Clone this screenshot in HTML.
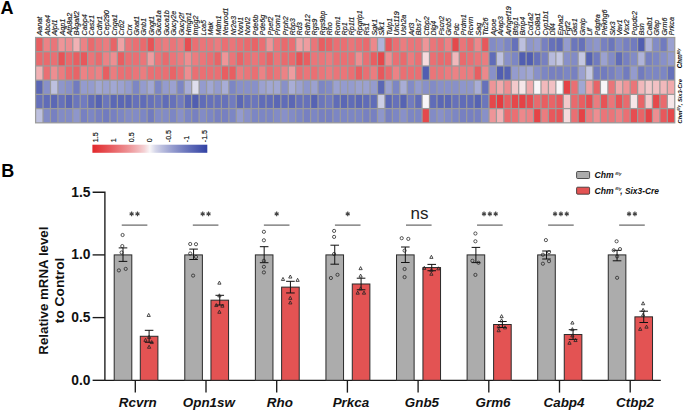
<!DOCTYPE html><html><head><meta charset="utf-8"><style>html,body{margin:0;padding:0;background:#fff;width:685px;height:411px;overflow:hidden}svg{display:block;font-family:"Liberation Sans",sans-serif}</style></head><body>
<svg width="685" height="411" viewBox="0 0 685 411">
<rect width="685" height="411" fill="#fff"/>
<text x="0.5" y="14.2" font-size="18" font-weight="bold" fill="#000">A</text>
<text x="1.2" y="176.9" font-size="18" font-weight="bold" fill="#000">B</text>
<g font-size="7.25" font-style="italic" fill="#111" stroke="#222" stroke-width="0.15">
<text transform="translate(42.32,35.6) rotate(-90)">Aanat</text>
<text transform="translate(49.75,35.6) rotate(-90)">Abca4</text>
<text transform="translate(57.18,35.6) rotate(-90)">Aipl1</text>
<text transform="translate(64.61,35.6) rotate(-90)">Aqp1</text>
<text transform="translate(72.04,35.6) rotate(-90)">Atp8a2</text>
<text transform="translate(79.48,35.6) rotate(-90)">B4galt2</text>
<text transform="translate(86.91,35.6) rotate(-90)">Cabp4</text>
<text transform="translate(94.34,35.6) rotate(-90)">Casz1</text>
<text transform="translate(101.77,35.6) rotate(-90)">Cdhr1</text>
<text transform="translate(109.20,35.6) rotate(-90)">Cep290</text>
<text transform="translate(116.64,35.6) rotate(-90)">Cnga1</text>
<text transform="translate(124.07,35.6) rotate(-90)">Crb2</text>
<text transform="translate(131.50,35.6) rotate(-90)">Crx</text>
<text transform="translate(138.93,35.6) rotate(-90)">Gnat1</text>
<text transform="translate(146.36,35.6) rotate(-90)">Gnb1</text>
<text transform="translate(153.80,35.6) rotate(-90)">Gngt1</text>
<text transform="translate(161.23,35.6) rotate(-90)">Guca1a</text>
<text transform="translate(168.66,35.6) rotate(-90)">Guca1b</text>
<text transform="translate(176.09,35.6) rotate(-90)">Gucy2e</text>
<text transform="translate(183.52,35.6) rotate(-90)">Gucy2f</text>
<text transform="translate(190.96,35.6) rotate(-90)">Hmgn1</text>
<text transform="translate(198.39,35.6) rotate(-90)">Impg2</text>
<text transform="translate(205.82,35.6) rotate(-90)">Lca5</text>
<text transform="translate(213.25,35.6) rotate(-90)">Mak</text>
<text transform="translate(220.68,35.6) rotate(-90)">Mdm1</text>
<text transform="translate(228.12,35.6) rotate(-90)">Neurod1</text>
<text transform="translate(235.55,35.6) rotate(-90)">Nr2e3</text>
<text transform="translate(242.98,35.6) rotate(-90)">Nxnl1</text>
<text transform="translate(250.41,35.6) rotate(-90)">Nxnl2</text>
<text transform="translate(257.84,35.6) rotate(-90)">Pde6b</text>
<text transform="translate(265.28,35.6) rotate(-90)">Pde6g</text>
<text transform="translate(272.71,35.6) rotate(-90)">Ppef2</text>
<text transform="translate(280.14,35.6) rotate(-90)">Prom1</text>
<text transform="translate(287.57,35.6) rotate(-90)">Prph2</text>
<text transform="translate(295.00,35.6) rotate(-90)">Rbp3</text>
<text transform="translate(302.44,35.6) rotate(-90)">Rd3</text>
<text transform="translate(309.87,35.6) rotate(-90)">Rdh12</text>
<text transform="translate(317.30,35.6) rotate(-90)">Rgs9</text>
<text transform="translate(324.73,35.6) rotate(-90)">Rgs9bp</text>
<text transform="translate(332.16,35.6) rotate(-90)">Rho</text>
<text transform="translate(339.60,35.6) rotate(-90)">Rom1</text>
<text transform="translate(347.03,35.6) rotate(-90)">Rp1</text>
<text transform="translate(354.46,35.6) rotate(-90)">Rp1l1</text>
<text transform="translate(361.89,35.6) rotate(-90)">Rpgrip1</text>
<text transform="translate(369.32,35.6) rotate(-90)">Rs1</text>
<text transform="translate(376.76,35.6) rotate(-90)">Sgk1</text>
<text transform="translate(384.19,35.6) rotate(-90)">Slk1</text>
<text transform="translate(391.62,35.6) rotate(-90)">Tulp1</text>
<text transform="translate(399.05,35.6) rotate(-90)">Unc119</text>
<text transform="translate(406.48,35.6) rotate(-90)">Ush2a</text>
<text transform="translate(413.92,35.6) rotate(-90)">Arl3</text>
<text transform="translate(421.35,35.6) rotate(-90)">Bbs7</text>
<text transform="translate(428.78,35.6) rotate(-90)">Ctbp2</text>
<text transform="translate(436.21,35.6) rotate(-90)">Dlg4</text>
<text transform="translate(443.64,35.6) rotate(-90)">Fscn2</text>
<text transform="translate(451.08,35.6) rotate(-90)">Gnb5</text>
<text transform="translate(458.51,35.6) rotate(-90)">Pdc</text>
<text transform="translate(465.94,35.6) rotate(-90)">Prdm1</text>
<text transform="translate(473.37,35.6) rotate(-90)">Rcvrn</text>
<text transform="translate(480.80,35.6) rotate(-90)">Sag</text>
<text transform="translate(488.24,35.6) rotate(-90)">Ttc26</text>
<text transform="translate(495.67,35.6) rotate(-90)">Apoe</text>
<text transform="translate(503.10,35.6) rotate(-90)">Arap3</text>
<text transform="translate(510.53,35.6) rotate(-90)">Arhgef19</text>
<text transform="translate(517.96,35.6) rotate(-90)">Bfsp1</text>
<text transform="translate(525.40,35.6) rotate(-90)">Bmp4</text>
<text transform="translate(532.83,35.6) rotate(-90)">Col1a2</text>
<text transform="translate(540.26,35.6) rotate(-90)">Col8a1</text>
<text transform="translate(547.69,35.6) rotate(-90)">Cyp1b1</text>
<text transform="translate(555.12,35.6) rotate(-90)">Dll4</text>
<text transform="translate(562.56,35.6) rotate(-90)">Epha2</text>
<text transform="translate(569.99,35.6) rotate(-90)">Fgf2</text>
<text transform="translate(577.42,35.6) rotate(-90)">Gas1</text>
<text transform="translate(584.85,35.6) rotate(-90)">Gmip</text>
<text transform="translate(592.28,35.6) rotate(-90)">Lif</text>
<text transform="translate(599.72,35.6) rotate(-90)">Pdgfra</text>
<text transform="translate(607.15,35.6) rotate(-90)">Plekhg6</text>
<text transform="translate(614.58,35.6) rotate(-90)">Six3</text>
<text transform="translate(622.01,35.6) rotate(-90)">Vav1</text>
<text transform="translate(629.44,35.6) rotate(-90)">Vsx2</text>
<text transform="translate(636.88,35.6) rotate(-90)">Popdc2</text>
<text transform="translate(644.31,35.6) rotate(-90)">Bsn</text>
<text transform="translate(651.74,35.6) rotate(-90)">Calb1</text>
<text transform="translate(659.17,35.6) rotate(-90)">Gfap</text>
<text transform="translate(666.60,35.6) rotate(-90)">Grm6</text>
<text transform="translate(674.04,35.6) rotate(-90)">Prkca</text>
</g>
<rect x="34.98" y="36.88" width="640.40" height="86.57" fill="#9b9b9b"/>
<rect x="36.23" y="38.12" width="6.18" height="12.97" fill="#e85e61"/>
<rect x="43.66" y="38.12" width="6.18" height="12.97" fill="#ec8285"/>
<rect x="51.09" y="38.12" width="6.18" height="12.97" fill="#ea7579"/>
<rect x="58.52" y="38.12" width="6.18" height="12.97" fill="#ee9598"/>
<rect x="65.95" y="38.12" width="6.18" height="12.97" fill="#ed8e91"/>
<rect x="73.39" y="38.12" width="6.18" height="12.97" fill="#f1b1b4"/>
<rect x="80.82" y="38.12" width="6.18" height="12.97" fill="#ec8285"/>
<rect x="88.25" y="38.12" width="6.18" height="12.97" fill="#e96a6d"/>
<rect x="95.68" y="38.12" width="6.18" height="12.97" fill="#ea7579"/>
<rect x="103.11" y="38.12" width="6.18" height="12.97" fill="#eb7c7f"/>
<rect x="110.55" y="38.12" width="6.18" height="12.97" fill="#e86467"/>
<rect x="117.98" y="38.12" width="6.18" height="12.97" fill="#efa2a5"/>
<rect x="125.41" y="38.12" width="6.18" height="12.97" fill="#ea7579"/>
<rect x="132.84" y="38.12" width="6.18" height="12.97" fill="#ea6f73"/>
<rect x="140.27" y="38.12" width="6.18" height="12.97" fill="#e96a6d"/>
<rect x="147.71" y="38.12" width="6.18" height="12.97" fill="#e75356"/>
<rect x="155.14" y="38.12" width="6.18" height="12.97" fill="#ea7579"/>
<rect x="162.57" y="38.12" width="6.18" height="12.97" fill="#eb7c7f"/>
<rect x="170.00" y="38.12" width="6.18" height="12.97" fill="#ea7579"/>
<rect x="177.43" y="38.12" width="6.18" height="12.97" fill="#eb7c7f"/>
<rect x="184.87" y="38.12" width="6.18" height="12.97" fill="#e64d51"/>
<rect x="192.30" y="38.12" width="6.18" height="12.97" fill="#ea6f73"/>
<rect x="199.73" y="38.12" width="6.18" height="12.97" fill="#ea7579"/>
<rect x="207.16" y="38.12" width="6.18" height="12.97" fill="#ea7579"/>
<rect x="214.59" y="38.12" width="6.18" height="12.97" fill="#eb7c7f"/>
<rect x="222.03" y="38.12" width="6.18" height="12.97" fill="#ea6f73"/>
<rect x="229.46" y="38.12" width="6.18" height="12.97" fill="#ea7579"/>
<rect x="236.89" y="38.12" width="6.18" height="12.97" fill="#ea6f73"/>
<rect x="244.32" y="38.12" width="6.18" height="12.97" fill="#e96a6d"/>
<rect x="251.75" y="38.12" width="6.18" height="12.97" fill="#e86467"/>
<rect x="259.19" y="38.12" width="6.18" height="12.97" fill="#ea6f73"/>
<rect x="266.62" y="38.12" width="6.18" height="12.97" fill="#ee9598"/>
<rect x="274.05" y="38.12" width="6.18" height="12.97" fill="#ea7579"/>
<rect x="281.48" y="38.12" width="6.18" height="12.97" fill="#e96a6d"/>
<rect x="288.91" y="38.12" width="6.18" height="12.97" fill="#ea6f73"/>
<rect x="296.35" y="38.12" width="6.18" height="12.97" fill="#efa2a5"/>
<rect x="303.78" y="38.12" width="6.18" height="12.97" fill="#ee9c9f"/>
<rect x="311.21" y="38.12" width="6.18" height="12.97" fill="#ea7579"/>
<rect x="318.64" y="38.12" width="6.18" height="12.97" fill="#e85e61"/>
<rect x="326.07" y="38.12" width="6.18" height="12.97" fill="#e86467"/>
<rect x="333.51" y="38.12" width="6.18" height="12.97" fill="#ea6f73"/>
<rect x="340.94" y="38.12" width="6.18" height="12.97" fill="#ea6f73"/>
<rect x="348.37" y="38.12" width="6.18" height="12.97" fill="#ea7579"/>
<rect x="355.80" y="38.12" width="6.18" height="12.97" fill="#ea6f73"/>
<rect x="363.23" y="38.12" width="6.18" height="12.97" fill="#e96a6d"/>
<rect x="370.67" y="38.12" width="6.18" height="12.97" fill="#ec888b"/>
<rect x="378.10" y="38.12" width="6.18" height="12.97" fill="#afb3d9"/>
<rect x="385.53" y="38.12" width="6.18" height="12.97" fill="#e7585c"/>
<rect x="392.96" y="38.12" width="6.18" height="12.97" fill="#ea6f73"/>
<rect x="400.39" y="38.12" width="6.18" height="12.97" fill="#eb7c7f"/>
<rect x="407.83" y="38.12" width="6.18" height="12.97" fill="#ea7579"/>
<rect x="415.26" y="38.12" width="6.18" height="12.97" fill="#ea7579"/>
<rect x="422.69" y="38.12" width="6.18" height="12.97" fill="#ee9598"/>
<rect x="430.12" y="38.12" width="6.18" height="12.97" fill="#ea7579"/>
<rect x="437.55" y="38.12" width="6.18" height="12.97" fill="#ea6f73"/>
<rect x="444.99" y="38.12" width="6.18" height="12.97" fill="#ec8285"/>
<rect x="452.42" y="38.12" width="6.18" height="12.97" fill="#e5484b"/>
<rect x="459.85" y="38.12" width="6.18" height="12.97" fill="#ea7579"/>
<rect x="467.28" y="38.12" width="6.18" height="12.97" fill="#e96a6d"/>
<rect x="474.71" y="38.12" width="6.18" height="12.97" fill="#ec888b"/>
<rect x="482.15" y="38.12" width="6.18" height="12.97" fill="#e7585c"/>
<rect x="489.58" y="38.12" width="6.18" height="12.97" fill="#828bc6"/>
<rect x="497.01" y="38.12" width="6.18" height="12.97" fill="#8890c9"/>
<rect x="504.44" y="38.12" width="6.18" height="12.97" fill="#7c86c4"/>
<rect x="511.87" y="38.12" width="6.18" height="12.97" fill="#6671ba"/>
<rect x="519.31" y="38.12" width="6.18" height="12.97" fill="#bdc0df"/>
<rect x="526.74" y="38.12" width="6.18" height="12.97" fill="#8e96cb"/>
<rect x="534.17" y="38.12" width="6.18" height="12.97" fill="#949bce"/>
<rect x="541.60" y="38.12" width="6.18" height="12.97" fill="#7780c1"/>
<rect x="549.03" y="38.12" width="6.18" height="12.97" fill="#6671ba"/>
<rect x="556.47" y="38.12" width="6.18" height="12.97" fill="#606cb8"/>
<rect x="563.90" y="38.12" width="6.18" height="12.97" fill="#949bce"/>
<rect x="571.33" y="38.12" width="6.18" height="12.97" fill="#6b76bc"/>
<rect x="578.76" y="38.12" width="6.18" height="12.97" fill="#6671ba"/>
<rect x="586.19" y="38.12" width="6.18" height="12.97" fill="#8890c9"/>
<rect x="593.62" y="38.12" width="6.18" height="12.97" fill="#8e96cb"/>
<rect x="601.06" y="38.12" width="6.18" height="12.97" fill="#7780c1"/>
<rect x="608.49" y="38.12" width="6.18" height="12.97" fill="#6b76bc"/>
<rect x="615.92" y="38.12" width="6.18" height="12.97" fill="#828bc6"/>
<rect x="623.35" y="38.12" width="6.18" height="12.97" fill="#7780c1"/>
<rect x="630.79" y="38.12" width="6.18" height="12.97" fill="#717bbf"/>
<rect x="638.22" y="38.12" width="6.18" height="12.97" fill="#515eb1"/>
<rect x="645.65" y="38.12" width="6.18" height="12.97" fill="#afb3d9"/>
<rect x="653.08" y="38.12" width="6.18" height="12.97" fill="#828bc6"/>
<rect x="660.51" y="38.12" width="6.18" height="12.97" fill="#717bbf"/>
<rect x="667.95" y="38.12" width="6.18" height="12.97" fill="#9ba1d0"/>
<rect x="36.23" y="52.34" width="6.18" height="12.97" fill="#e96a6d"/>
<rect x="43.66" y="52.34" width="6.18" height="12.97" fill="#e96a6d"/>
<rect x="51.09" y="52.34" width="6.18" height="12.97" fill="#ea6f73"/>
<rect x="58.52" y="52.34" width="6.18" height="12.97" fill="#e75356"/>
<rect x="65.95" y="52.34" width="6.18" height="12.97" fill="#e96a6d"/>
<rect x="73.39" y="52.34" width="6.18" height="12.97" fill="#e85e61"/>
<rect x="80.82" y="52.34" width="6.18" height="12.97" fill="#e7585c"/>
<rect x="88.25" y="52.34" width="6.18" height="12.97" fill="#ea7579"/>
<rect x="95.68" y="52.34" width="6.18" height="12.97" fill="#e96a6d"/>
<rect x="103.11" y="52.34" width="6.18" height="12.97" fill="#ec8285"/>
<rect x="110.55" y="52.34" width="6.18" height="12.97" fill="#ed8e91"/>
<rect x="117.98" y="52.34" width="6.18" height="12.97" fill="#e85e61"/>
<rect x="125.41" y="52.34" width="6.18" height="12.97" fill="#ea6f73"/>
<rect x="132.84" y="52.34" width="6.18" height="12.97" fill="#ea6f73"/>
<rect x="140.27" y="52.34" width="6.18" height="12.97" fill="#ea7579"/>
<rect x="147.71" y="52.34" width="6.18" height="12.97" fill="#ee9c9f"/>
<rect x="155.14" y="52.34" width="6.18" height="12.97" fill="#ea7579"/>
<rect x="162.57" y="52.34" width="6.18" height="12.97" fill="#e96a6d"/>
<rect x="170.00" y="52.34" width="6.18" height="12.97" fill="#ea7579"/>
<rect x="177.43" y="52.34" width="6.18" height="12.97" fill="#eb7c7f"/>
<rect x="184.87" y="52.34" width="6.18" height="12.97" fill="#ed8e91"/>
<rect x="192.30" y="52.34" width="6.18" height="12.97" fill="#eb7c7f"/>
<rect x="199.73" y="52.34" width="6.18" height="12.97" fill="#ea7579"/>
<rect x="207.16" y="52.34" width="6.18" height="12.97" fill="#ea6f73"/>
<rect x="214.59" y="52.34" width="6.18" height="12.97" fill="#e86467"/>
<rect x="222.03" y="52.34" width="6.18" height="12.97" fill="#ee9598"/>
<rect x="229.46" y="52.34" width="6.18" height="12.97" fill="#ea7579"/>
<rect x="236.89" y="52.34" width="6.18" height="12.97" fill="#e86467"/>
<rect x="244.32" y="52.34" width="6.18" height="12.97" fill="#ea6f73"/>
<rect x="251.75" y="52.34" width="6.18" height="12.97" fill="#ea7579"/>
<rect x="259.19" y="52.34" width="6.18" height="12.97" fill="#ea6f73"/>
<rect x="266.62" y="52.34" width="6.18" height="12.97" fill="#e86467"/>
<rect x="274.05" y="52.34" width="6.18" height="12.97" fill="#ea7579"/>
<rect x="281.48" y="52.34" width="6.18" height="12.97" fill="#e96a6d"/>
<rect x="288.91" y="52.34" width="6.18" height="12.97" fill="#e96a6d"/>
<rect x="296.35" y="52.34" width="6.18" height="12.97" fill="#e75356"/>
<rect x="303.78" y="52.34" width="6.18" height="12.97" fill="#e85e61"/>
<rect x="311.21" y="52.34" width="6.18" height="12.97" fill="#ea7579"/>
<rect x="318.64" y="52.34" width="6.18" height="12.97" fill="#ea7579"/>
<rect x="326.07" y="52.34" width="6.18" height="12.97" fill="#eb7c7f"/>
<rect x="333.51" y="52.34" width="6.18" height="12.97" fill="#ea6f73"/>
<rect x="340.94" y="52.34" width="6.18" height="12.97" fill="#ea6f73"/>
<rect x="348.37" y="52.34" width="6.18" height="12.97" fill="#ea6f73"/>
<rect x="355.80" y="52.34" width="6.18" height="12.97" fill="#ed8e91"/>
<rect x="363.23" y="52.34" width="6.18" height="12.97" fill="#ea6f73"/>
<rect x="370.67" y="52.34" width="6.18" height="12.97" fill="#e85e61"/>
<rect x="378.10" y="52.34" width="6.18" height="12.97" fill="#e5484b"/>
<rect x="385.53" y="52.34" width="6.18" height="12.97" fill="#ed8e91"/>
<rect x="392.96" y="52.34" width="6.18" height="12.97" fill="#ea6f73"/>
<rect x="400.39" y="52.34" width="6.18" height="12.97" fill="#e96a6d"/>
<rect x="407.83" y="52.34" width="6.18" height="12.97" fill="#eb7c7f"/>
<rect x="415.26" y="52.34" width="6.18" height="12.97" fill="#ea6f73"/>
<rect x="422.69" y="52.34" width="6.18" height="12.97" fill="#f5dbdd"/>
<rect x="430.12" y="52.34" width="6.18" height="12.97" fill="#ea6f73"/>
<rect x="437.55" y="52.34" width="6.18" height="12.97" fill="#e96a6d"/>
<rect x="444.99" y="52.34" width="6.18" height="12.97" fill="#e96a6d"/>
<rect x="452.42" y="52.34" width="6.18" height="12.97" fill="#f1b8bb"/>
<rect x="459.85" y="52.34" width="6.18" height="12.97" fill="#e96a6d"/>
<rect x="467.28" y="52.34" width="6.18" height="12.97" fill="#ea6f73"/>
<rect x="474.71" y="52.34" width="6.18" height="12.97" fill="#ea7579"/>
<rect x="482.15" y="52.34" width="6.18" height="12.97" fill="#eb7c7f"/>
<rect x="489.58" y="52.34" width="6.18" height="12.97" fill="#606cb8"/>
<rect x="497.01" y="52.34" width="6.18" height="12.97" fill="#bdc0df"/>
<rect x="504.44" y="52.34" width="6.18" height="12.97" fill="#8890c9"/>
<rect x="511.87" y="52.34" width="6.18" height="12.97" fill="#7c86c4"/>
<rect x="519.31" y="52.34" width="6.18" height="12.97" fill="#515eb1"/>
<rect x="526.74" y="52.34" width="6.18" height="12.97" fill="#515eb1"/>
<rect x="534.17" y="52.34" width="6.18" height="12.97" fill="#6671ba"/>
<rect x="541.60" y="52.34" width="6.18" height="12.97" fill="#7780c1"/>
<rect x="549.03" y="52.34" width="6.18" height="12.97" fill="#b6badc"/>
<rect x="556.47" y="52.34" width="6.18" height="12.97" fill="#c4c7e2"/>
<rect x="563.90" y="52.34" width="6.18" height="12.97" fill="#8890c9"/>
<rect x="571.33" y="52.34" width="6.18" height="12.97" fill="#828bc6"/>
<rect x="578.76" y="52.34" width="6.18" height="12.97" fill="#c4c7e2"/>
<rect x="586.19" y="52.34" width="6.18" height="12.97" fill="#5663b3"/>
<rect x="593.62" y="52.34" width="6.18" height="12.97" fill="#717bbf"/>
<rect x="601.06" y="52.34" width="6.18" height="12.97" fill="#9ba1d0"/>
<rect x="608.49" y="52.34" width="6.18" height="12.97" fill="#828bc6"/>
<rect x="615.92" y="52.34" width="6.18" height="12.97" fill="#606cb8"/>
<rect x="623.35" y="52.34" width="6.18" height="12.97" fill="#7780c1"/>
<rect x="630.79" y="52.34" width="6.18" height="12.97" fill="#828bc6"/>
<rect x="638.22" y="52.34" width="6.18" height="12.97" fill="#afb3d9"/>
<rect x="645.65" y="52.34" width="6.18" height="12.97" fill="#7780c1"/>
<rect x="653.08" y="52.34" width="6.18" height="12.97" fill="#7c86c4"/>
<rect x="660.51" y="52.34" width="6.18" height="12.97" fill="#8890c9"/>
<rect x="667.95" y="52.34" width="6.18" height="12.97" fill="#949bce"/>
<rect x="36.23" y="66.56" width="6.18" height="12.97" fill="#f1b1b4"/>
<rect x="43.66" y="66.56" width="6.18" height="12.97" fill="#ea6f73"/>
<rect x="51.09" y="66.56" width="6.18" height="12.97" fill="#ed8e91"/>
<rect x="58.52" y="66.56" width="6.18" height="12.97" fill="#eb7c7f"/>
<rect x="65.95" y="66.56" width="6.18" height="12.97" fill="#e96a6d"/>
<rect x="73.39" y="66.56" width="6.18" height="12.97" fill="#e86467"/>
<rect x="80.82" y="66.56" width="6.18" height="12.97" fill="#ec8285"/>
<rect x="88.25" y="66.56" width="6.18" height="12.97" fill="#eb7c7f"/>
<rect x="95.68" y="66.56" width="6.18" height="12.97" fill="#ec8285"/>
<rect x="103.11" y="66.56" width="6.18" height="12.97" fill="#e85e61"/>
<rect x="110.55" y="66.56" width="6.18" height="12.97" fill="#eb7c7f"/>
<rect x="117.98" y="66.56" width="6.18" height="12.97" fill="#ea6f73"/>
<rect x="125.41" y="66.56" width="6.18" height="12.97" fill="#ea6f73"/>
<rect x="132.84" y="66.56" width="6.18" height="12.97" fill="#ea7579"/>
<rect x="140.27" y="66.56" width="6.18" height="12.97" fill="#eb7c7f"/>
<rect x="147.71" y="66.56" width="6.18" height="12.97" fill="#ea6f73"/>
<rect x="155.14" y="66.56" width="6.18" height="12.97" fill="#ea6f73"/>
<rect x="162.57" y="66.56" width="6.18" height="12.97" fill="#ea6f73"/>
<rect x="170.00" y="66.56" width="6.18" height="12.97" fill="#e86467"/>
<rect x="177.43" y="66.56" width="6.18" height="12.97" fill="#ea6f73"/>
<rect x="184.87" y="66.56" width="6.18" height="12.97" fill="#ed8e91"/>
<rect x="192.30" y="66.56" width="6.18" height="12.97" fill="#ea6f73"/>
<rect x="199.73" y="66.56" width="6.18" height="12.97" fill="#ea6f73"/>
<rect x="207.16" y="66.56" width="6.18" height="12.97" fill="#ea6f73"/>
<rect x="214.59" y="66.56" width="6.18" height="12.97" fill="#ea6f73"/>
<rect x="222.03" y="66.56" width="6.18" height="12.97" fill="#e85e61"/>
<rect x="229.46" y="66.56" width="6.18" height="12.97" fill="#e85e61"/>
<rect x="236.89" y="66.56" width="6.18" height="12.97" fill="#eb7c7f"/>
<rect x="244.32" y="66.56" width="6.18" height="12.97" fill="#ea7579"/>
<rect x="251.75" y="66.56" width="6.18" height="12.97" fill="#ea6f73"/>
<rect x="259.19" y="66.56" width="6.18" height="12.97" fill="#ec8285"/>
<rect x="266.62" y="66.56" width="6.18" height="12.97" fill="#ea6f73"/>
<rect x="274.05" y="66.56" width="6.18" height="12.97" fill="#ea7579"/>
<rect x="281.48" y="66.56" width="6.18" height="12.97" fill="#ec8285"/>
<rect x="288.91" y="66.56" width="6.18" height="12.97" fill="#ee9c9f"/>
<rect x="296.35" y="66.56" width="6.18" height="12.97" fill="#ea6f73"/>
<rect x="303.78" y="66.56" width="6.18" height="12.97" fill="#ea7579"/>
<rect x="311.21" y="66.56" width="6.18" height="12.97" fill="#ea6f73"/>
<rect x="318.64" y="66.56" width="6.18" height="12.97" fill="#ea7579"/>
<rect x="326.07" y="66.56" width="6.18" height="12.97" fill="#eb7c7f"/>
<rect x="333.51" y="66.56" width="6.18" height="12.97" fill="#ea7579"/>
<rect x="340.94" y="66.56" width="6.18" height="12.97" fill="#ea7579"/>
<rect x="348.37" y="66.56" width="6.18" height="12.97" fill="#ea6f73"/>
<rect x="355.80" y="66.56" width="6.18" height="12.97" fill="#e85e61"/>
<rect x="363.23" y="66.56" width="6.18" height="12.97" fill="#ea6f73"/>
<rect x="370.67" y="66.56" width="6.18" height="12.97" fill="#eb7c7f"/>
<rect x="378.10" y="66.56" width="6.18" height="12.97" fill="#e7585c"/>
<rect x="385.53" y="66.56" width="6.18" height="12.97" fill="#e96a6d"/>
<rect x="392.96" y="66.56" width="6.18" height="12.97" fill="#ec8285"/>
<rect x="400.39" y="66.56" width="6.18" height="12.97" fill="#ea6f73"/>
<rect x="407.83" y="66.56" width="6.18" height="12.97" fill="#ea6f73"/>
<rect x="415.26" y="66.56" width="6.18" height="12.97" fill="#ea6f73"/>
<rect x="422.69" y="66.56" width="6.18" height="12.97" fill="#515eb1"/>
<rect x="430.12" y="66.56" width="6.18" height="12.97" fill="#ea7579"/>
<rect x="437.55" y="66.56" width="6.18" height="12.97" fill="#ea7579"/>
<rect x="444.99" y="66.56" width="6.18" height="12.97" fill="#eb7c7f"/>
<rect x="452.42" y="66.56" width="6.18" height="12.97" fill="#ec8285"/>
<rect x="459.85" y="66.56" width="6.18" height="12.97" fill="#eb7c7f"/>
<rect x="467.28" y="66.56" width="6.18" height="12.97" fill="#eb7c7f"/>
<rect x="474.71" y="66.56" width="6.18" height="12.97" fill="#e85e61"/>
<rect x="482.15" y="66.56" width="6.18" height="12.97" fill="#ec888b"/>
<rect x="489.58" y="66.56" width="6.18" height="12.97" fill="#8890c9"/>
<rect x="497.01" y="66.56" width="6.18" height="12.97" fill="#515eb1"/>
<rect x="504.44" y="66.56" width="6.18" height="12.97" fill="#5663b3"/>
<rect x="511.87" y="66.56" width="6.18" height="12.97" fill="#949bce"/>
<rect x="519.31" y="66.56" width="6.18" height="12.97" fill="#9ba1d0"/>
<rect x="526.74" y="66.56" width="6.18" height="12.97" fill="#a1a7d3"/>
<rect x="534.17" y="66.56" width="6.18" height="12.97" fill="#8890c9"/>
<rect x="541.60" y="66.56" width="6.18" height="12.97" fill="#7c86c4"/>
<rect x="549.03" y="66.56" width="6.18" height="12.97" fill="#7780c1"/>
<rect x="556.47" y="66.56" width="6.18" height="12.97" fill="#7780c1"/>
<rect x="563.90" y="66.56" width="6.18" height="12.97" fill="#7c86c4"/>
<rect x="571.33" y="66.56" width="6.18" height="12.97" fill="#7780c1"/>
<rect x="578.76" y="66.56" width="6.18" height="12.97" fill="#9ba1d0"/>
<rect x="586.19" y="66.56" width="6.18" height="12.97" fill="#c4c7e2"/>
<rect x="593.62" y="66.56" width="6.18" height="12.97" fill="#717bbf"/>
<rect x="601.06" y="66.56" width="6.18" height="12.97" fill="#717bbf"/>
<rect x="608.49" y="66.56" width="6.18" height="12.97" fill="#7780c1"/>
<rect x="615.92" y="66.56" width="6.18" height="12.97" fill="#828bc6"/>
<rect x="623.35" y="66.56" width="6.18" height="12.97" fill="#717bbf"/>
<rect x="630.79" y="66.56" width="6.18" height="12.97" fill="#949bce"/>
<rect x="638.22" y="66.56" width="6.18" height="12.97" fill="#717bbf"/>
<rect x="645.65" y="66.56" width="6.18" height="12.97" fill="#7c86c4"/>
<rect x="653.08" y="66.56" width="6.18" height="12.97" fill="#7c86c4"/>
<rect x="660.51" y="66.56" width="6.18" height="12.97" fill="#7c86c4"/>
<rect x="667.95" y="66.56" width="6.18" height="12.97" fill="#6671ba"/>
<rect x="36.23" y="80.78" width="6.18" height="12.97" fill="#5b67b5"/>
<rect x="43.66" y="80.78" width="6.18" height="12.97" fill="#8890c9"/>
<rect x="51.09" y="80.78" width="6.18" height="12.97" fill="#bdc0df"/>
<rect x="58.52" y="80.78" width="6.18" height="12.97" fill="#8e96cb"/>
<rect x="65.95" y="80.78" width="6.18" height="12.97" fill="#8890c9"/>
<rect x="73.39" y="80.78" width="6.18" height="12.97" fill="#717bbf"/>
<rect x="80.82" y="80.78" width="6.18" height="12.97" fill="#949bce"/>
<rect x="88.25" y="80.78" width="6.18" height="12.97" fill="#949bce"/>
<rect x="95.68" y="80.78" width="6.18" height="12.97" fill="#a1a7d3"/>
<rect x="103.11" y="80.78" width="6.18" height="12.97" fill="#9ba1d0"/>
<rect x="110.55" y="80.78" width="6.18" height="12.97" fill="#a1a7d3"/>
<rect x="117.98" y="80.78" width="6.18" height="12.97" fill="#9ba1d0"/>
<rect x="125.41" y="80.78" width="6.18" height="12.97" fill="#949bce"/>
<rect x="132.84" y="80.78" width="6.18" height="12.97" fill="#7c86c4"/>
<rect x="140.27" y="80.78" width="6.18" height="12.97" fill="#949bce"/>
<rect x="147.71" y="80.78" width="6.18" height="12.97" fill="#a1a7d3"/>
<rect x="155.14" y="80.78" width="6.18" height="12.97" fill="#7c86c4"/>
<rect x="162.57" y="80.78" width="6.18" height="12.97" fill="#949bce"/>
<rect x="170.00" y="80.78" width="6.18" height="12.97" fill="#9ba1d0"/>
<rect x="177.43" y="80.78" width="6.18" height="12.97" fill="#7c86c4"/>
<rect x="184.87" y="80.78" width="6.18" height="12.97" fill="#a8add6"/>
<rect x="192.30" y="80.78" width="6.18" height="12.97" fill="#dedeed"/>
<rect x="199.73" y="80.78" width="6.18" height="12.97" fill="#949bce"/>
<rect x="207.16" y="80.78" width="6.18" height="12.97" fill="#a1a7d3"/>
<rect x="214.59" y="80.78" width="6.18" height="12.97" fill="#949bce"/>
<rect x="222.03" y="80.78" width="6.18" height="12.97" fill="#a8add6"/>
<rect x="229.46" y="80.78" width="6.18" height="12.97" fill="#7c86c4"/>
<rect x="236.89" y="80.78" width="6.18" height="12.97" fill="#8890c9"/>
<rect x="244.32" y="80.78" width="6.18" height="12.97" fill="#8890c9"/>
<rect x="251.75" y="80.78" width="6.18" height="12.97" fill="#8890c9"/>
<rect x="259.19" y="80.78" width="6.18" height="12.97" fill="#9ba1d0"/>
<rect x="266.62" y="80.78" width="6.18" height="12.97" fill="#a1a7d3"/>
<rect x="274.05" y="80.78" width="6.18" height="12.97" fill="#a1a7d3"/>
<rect x="281.48" y="80.78" width="6.18" height="12.97" fill="#8890c9"/>
<rect x="288.91" y="80.78" width="6.18" height="12.97" fill="#a8add6"/>
<rect x="296.35" y="80.78" width="6.18" height="12.97" fill="#9ba1d0"/>
<rect x="303.78" y="80.78" width="6.18" height="12.97" fill="#8e96cb"/>
<rect x="311.21" y="80.78" width="6.18" height="12.97" fill="#9ba1d0"/>
<rect x="318.64" y="80.78" width="6.18" height="12.97" fill="#7c86c4"/>
<rect x="326.07" y="80.78" width="6.18" height="12.97" fill="#828bc6"/>
<rect x="333.51" y="80.78" width="6.18" height="12.97" fill="#9ba1d0"/>
<rect x="340.94" y="80.78" width="6.18" height="12.97" fill="#949bce"/>
<rect x="348.37" y="80.78" width="6.18" height="12.97" fill="#949bce"/>
<rect x="355.80" y="80.78" width="6.18" height="12.97" fill="#9ba1d0"/>
<rect x="363.23" y="80.78" width="6.18" height="12.97" fill="#9ba1d0"/>
<rect x="370.67" y="80.78" width="6.18" height="12.97" fill="#949bce"/>
<rect x="378.10" y="80.78" width="6.18" height="12.97" fill="#5b67b5"/>
<rect x="385.53" y="80.78" width="6.18" height="12.97" fill="#9ba1d0"/>
<rect x="392.96" y="80.78" width="6.18" height="12.97" fill="#7c86c4"/>
<rect x="400.39" y="80.78" width="6.18" height="12.97" fill="#a8add6"/>
<rect x="407.83" y="80.78" width="6.18" height="12.97" fill="#828bc6"/>
<rect x="415.26" y="80.78" width="6.18" height="12.97" fill="#949bce"/>
<rect x="422.69" y="80.78" width="6.18" height="12.97" fill="#8890c9"/>
<rect x="430.12" y="80.78" width="6.18" height="12.97" fill="#828bc6"/>
<rect x="437.55" y="80.78" width="6.18" height="12.97" fill="#8890c9"/>
<rect x="444.99" y="80.78" width="6.18" height="12.97" fill="#8890c9"/>
<rect x="452.42" y="80.78" width="6.18" height="12.97" fill="#8890c9"/>
<rect x="459.85" y="80.78" width="6.18" height="12.97" fill="#8e96cb"/>
<rect x="467.28" y="80.78" width="6.18" height="12.97" fill="#8e96cb"/>
<rect x="474.71" y="80.78" width="6.18" height="12.97" fill="#a8add6"/>
<rect x="482.15" y="80.78" width="6.18" height="12.97" fill="#6671ba"/>
<rect x="489.58" y="80.78" width="6.18" height="12.97" fill="#ee9598"/>
<rect x="497.01" y="80.78" width="6.18" height="12.97" fill="#f0aaac"/>
<rect x="504.44" y="80.78" width="6.18" height="12.97" fill="#ed8e91"/>
<rect x="511.87" y="80.78" width="6.18" height="12.97" fill="#f3c9cb"/>
<rect x="519.31" y="80.78" width="6.18" height="12.97" fill="#f6e6e8"/>
<rect x="526.74" y="80.78" width="6.18" height="12.97" fill="#f0aaac"/>
<rect x="534.17" y="80.78" width="6.18" height="12.97" fill="#f8f6f8"/>
<rect x="541.60" y="80.78" width="6.18" height="12.97" fill="#f1b8bb"/>
<rect x="549.03" y="80.78" width="6.18" height="12.97" fill="#f2c0c3"/>
<rect x="556.47" y="80.78" width="6.18" height="12.97" fill="#f8f6f8"/>
<rect x="563.90" y="80.78" width="6.18" height="12.97" fill="#e54246"/>
<rect x="571.33" y="80.78" width="6.18" height="12.97" fill="#ea6f73"/>
<rect x="578.76" y="80.78" width="6.18" height="12.97" fill="#a1a7d3"/>
<rect x="586.19" y="80.78" width="6.18" height="12.97" fill="#efa2a5"/>
<rect x="593.62" y="80.78" width="6.18" height="12.97" fill="#e86467"/>
<rect x="601.06" y="80.78" width="6.18" height="12.97" fill="#f8f6f8"/>
<rect x="608.49" y="80.78" width="6.18" height="12.97" fill="#ea7579"/>
<rect x="615.92" y="80.78" width="6.18" height="12.97" fill="#f0aaac"/>
<rect x="623.35" y="80.78" width="6.18" height="12.97" fill="#ee9598"/>
<rect x="630.79" y="80.78" width="6.18" height="12.97" fill="#ea7579"/>
<rect x="638.22" y="80.78" width="6.18" height="12.97" fill="#f1b8bb"/>
<rect x="645.65" y="80.78" width="6.18" height="12.97" fill="#f3c9cb"/>
<rect x="653.08" y="80.78" width="6.18" height="12.97" fill="#f2c0c3"/>
<rect x="660.51" y="80.78" width="6.18" height="12.97" fill="#f1b8bb"/>
<rect x="667.95" y="80.78" width="6.18" height="12.97" fill="#f0aaac"/>
<rect x="36.23" y="95.00" width="6.18" height="12.97" fill="#6671ba"/>
<rect x="43.66" y="95.00" width="6.18" height="12.97" fill="#606cb8"/>
<rect x="51.09" y="95.00" width="6.18" height="12.97" fill="#5b67b5"/>
<rect x="58.52" y="95.00" width="6.18" height="12.97" fill="#6671ba"/>
<rect x="65.95" y="95.00" width="6.18" height="12.97" fill="#5b67b5"/>
<rect x="73.39" y="95.00" width="6.18" height="12.97" fill="#6b76bc"/>
<rect x="80.82" y="95.00" width="6.18" height="12.97" fill="#717bbf"/>
<rect x="88.25" y="95.00" width="6.18" height="12.97" fill="#606cb8"/>
<rect x="95.68" y="95.00" width="6.18" height="12.97" fill="#5663b3"/>
<rect x="103.11" y="95.00" width="6.18" height="12.97" fill="#6b76bc"/>
<rect x="110.55" y="95.00" width="6.18" height="12.97" fill="#5b67b5"/>
<rect x="117.98" y="95.00" width="6.18" height="12.97" fill="#5b67b5"/>
<rect x="125.41" y="95.00" width="6.18" height="12.97" fill="#5b67b5"/>
<rect x="132.84" y="95.00" width="6.18" height="12.97" fill="#6671ba"/>
<rect x="140.27" y="95.00" width="6.18" height="12.97" fill="#606cb8"/>
<rect x="147.71" y="95.00" width="6.18" height="12.97" fill="#6671ba"/>
<rect x="155.14" y="95.00" width="6.18" height="12.97" fill="#6b76bc"/>
<rect x="162.57" y="95.00" width="6.18" height="12.97" fill="#606cb8"/>
<rect x="170.00" y="95.00" width="6.18" height="12.97" fill="#6671ba"/>
<rect x="177.43" y="95.00" width="6.18" height="12.97" fill="#717bbf"/>
<rect x="184.87" y="95.00" width="6.18" height="12.97" fill="#5b67b5"/>
<rect x="192.30" y="95.00" width="6.18" height="12.97" fill="#515eb1"/>
<rect x="199.73" y="95.00" width="6.18" height="12.97" fill="#606cb8"/>
<rect x="207.16" y="95.00" width="6.18" height="12.97" fill="#6671ba"/>
<rect x="214.59" y="95.00" width="6.18" height="12.97" fill="#6671ba"/>
<rect x="222.03" y="95.00" width="6.18" height="12.97" fill="#6671ba"/>
<rect x="229.46" y="95.00" width="6.18" height="12.97" fill="#717bbf"/>
<rect x="236.89" y="95.00" width="6.18" height="12.97" fill="#5b67b5"/>
<rect x="244.32" y="95.00" width="6.18" height="12.97" fill="#6671ba"/>
<rect x="251.75" y="95.00" width="6.18" height="12.97" fill="#6b76bc"/>
<rect x="259.19" y="95.00" width="6.18" height="12.97" fill="#606cb8"/>
<rect x="266.62" y="95.00" width="6.18" height="12.97" fill="#606cb8"/>
<rect x="274.05" y="95.00" width="6.18" height="12.97" fill="#5b67b5"/>
<rect x="281.48" y="95.00" width="6.18" height="12.97" fill="#606cb8"/>
<rect x="288.91" y="95.00" width="6.18" height="12.97" fill="#5b67b5"/>
<rect x="296.35" y="95.00" width="6.18" height="12.97" fill="#6671ba"/>
<rect x="303.78" y="95.00" width="6.18" height="12.97" fill="#6671ba"/>
<rect x="311.21" y="95.00" width="6.18" height="12.97" fill="#5663b3"/>
<rect x="318.64" y="95.00" width="6.18" height="12.97" fill="#6b76bc"/>
<rect x="326.07" y="95.00" width="6.18" height="12.97" fill="#717bbf"/>
<rect x="333.51" y="95.00" width="6.18" height="12.97" fill="#606cb8"/>
<rect x="340.94" y="95.00" width="6.18" height="12.97" fill="#5b67b5"/>
<rect x="348.37" y="95.00" width="6.18" height="12.97" fill="#606cb8"/>
<rect x="355.80" y="95.00" width="6.18" height="12.97" fill="#5b67b5"/>
<rect x="363.23" y="95.00" width="6.18" height="12.97" fill="#606cb8"/>
<rect x="370.67" y="95.00" width="6.18" height="12.97" fill="#606cb8"/>
<rect x="378.10" y="95.00" width="6.18" height="12.97" fill="#cccee5"/>
<rect x="385.53" y="95.00" width="6.18" height="12.97" fill="#5b67b5"/>
<rect x="392.96" y="95.00" width="6.18" height="12.97" fill="#6671ba"/>
<rect x="400.39" y="95.00" width="6.18" height="12.97" fill="#5663b3"/>
<rect x="407.83" y="95.00" width="6.18" height="12.97" fill="#717bbf"/>
<rect x="415.26" y="95.00" width="6.18" height="12.97" fill="#606cb8"/>
<rect x="422.69" y="95.00" width="6.18" height="12.97" fill="#f8f6f8"/>
<rect x="430.12" y="95.00" width="6.18" height="12.97" fill="#606cb8"/>
<rect x="437.55" y="95.00" width="6.18" height="12.97" fill="#5b67b5"/>
<rect x="444.99" y="95.00" width="6.18" height="12.97" fill="#5b67b5"/>
<rect x="452.42" y="95.00" width="6.18" height="12.97" fill="#6671ba"/>
<rect x="459.85" y="95.00" width="6.18" height="12.97" fill="#606cb8"/>
<rect x="467.28" y="95.00" width="6.18" height="12.97" fill="#606cb8"/>
<rect x="474.71" y="95.00" width="6.18" height="12.97" fill="#5663b3"/>
<rect x="482.15" y="95.00" width="6.18" height="12.97" fill="#6b76bc"/>
<rect x="489.58" y="95.00" width="6.18" height="12.97" fill="#e5484b"/>
<rect x="497.01" y="95.00" width="6.18" height="12.97" fill="#e43d41"/>
<rect x="504.44" y="95.00" width="6.18" height="12.97" fill="#e85e61"/>
<rect x="511.87" y="95.00" width="6.18" height="12.97" fill="#e5484b"/>
<rect x="519.31" y="95.00" width="6.18" height="12.97" fill="#e54246"/>
<rect x="526.74" y="95.00" width="6.18" height="12.97" fill="#e64d51"/>
<rect x="534.17" y="95.00" width="6.18" height="12.97" fill="#e96a6d"/>
<rect x="541.60" y="95.00" width="6.18" height="12.97" fill="#e85e61"/>
<rect x="549.03" y="95.00" width="6.18" height="12.97" fill="#e86467"/>
<rect x="556.47" y="95.00" width="6.18" height="12.97" fill="#e7585c"/>
<rect x="563.90" y="95.00" width="6.18" height="12.97" fill="#f3c9cb"/>
<rect x="571.33" y="95.00" width="6.18" height="12.97" fill="#e96a6d"/>
<rect x="578.76" y="95.00" width="6.18" height="12.97" fill="#e85e61"/>
<rect x="586.19" y="95.00" width="6.18" height="12.97" fill="#e64d51"/>
<rect x="593.62" y="95.00" width="6.18" height="12.97" fill="#eb7c7f"/>
<rect x="601.06" y="95.00" width="6.18" height="12.97" fill="#e75356"/>
<rect x="608.49" y="95.00" width="6.18" height="12.97" fill="#ea7579"/>
<rect x="615.92" y="95.00" width="6.18" height="12.97" fill="#e75356"/>
<rect x="623.35" y="95.00" width="6.18" height="12.97" fill="#e96a6d"/>
<rect x="630.79" y="95.00" width="6.18" height="12.97" fill="#f6e6e8"/>
<rect x="638.22" y="95.00" width="6.18" height="12.97" fill="#e86467"/>
<rect x="645.65" y="95.00" width="6.18" height="12.97" fill="#f3c9cb"/>
<rect x="653.08" y="95.00" width="6.18" height="12.97" fill="#e5484b"/>
<rect x="660.51" y="95.00" width="6.18" height="12.97" fill="#e96a6d"/>
<rect x="667.95" y="95.00" width="6.18" height="12.97" fill="#f6e6e8"/>
<rect x="36.23" y="109.23" width="6.18" height="12.97" fill="#bdc0df"/>
<rect x="43.66" y="109.23" width="6.18" height="12.97" fill="#828bc6"/>
<rect x="51.09" y="109.23" width="6.18" height="12.97" fill="#7780c1"/>
<rect x="58.52" y="109.23" width="6.18" height="12.97" fill="#828bc6"/>
<rect x="65.95" y="109.23" width="6.18" height="12.97" fill="#828bc6"/>
<rect x="73.39" y="109.23" width="6.18" height="12.97" fill="#8e96cb"/>
<rect x="80.82" y="109.23" width="6.18" height="12.97" fill="#7780c1"/>
<rect x="88.25" y="109.23" width="6.18" height="12.97" fill="#7c86c4"/>
<rect x="95.68" y="109.23" width="6.18" height="12.97" fill="#7780c1"/>
<rect x="103.11" y="109.23" width="6.18" height="12.97" fill="#717bbf"/>
<rect x="110.55" y="109.23" width="6.18" height="12.97" fill="#7780c1"/>
<rect x="117.98" y="109.23" width="6.18" height="12.97" fill="#7c86c4"/>
<rect x="125.41" y="109.23" width="6.18" height="12.97" fill="#828bc6"/>
<rect x="132.84" y="109.23" width="6.18" height="12.97" fill="#828bc6"/>
<rect x="140.27" y="109.23" width="6.18" height="12.97" fill="#7c86c4"/>
<rect x="147.71" y="109.23" width="6.18" height="12.97" fill="#717bbf"/>
<rect x="155.14" y="109.23" width="6.18" height="12.97" fill="#828bc6"/>
<rect x="162.57" y="109.23" width="6.18" height="12.97" fill="#828bc6"/>
<rect x="170.00" y="109.23" width="6.18" height="12.97" fill="#7c86c4"/>
<rect x="177.43" y="109.23" width="6.18" height="12.97" fill="#8890c9"/>
<rect x="184.87" y="109.23" width="6.18" height="12.97" fill="#7c86c4"/>
<rect x="192.30" y="109.23" width="6.18" height="12.97" fill="#7780c1"/>
<rect x="199.73" y="109.23" width="6.18" height="12.97" fill="#828bc6"/>
<rect x="207.16" y="109.23" width="6.18" height="12.97" fill="#7c86c4"/>
<rect x="214.59" y="109.23" width="6.18" height="12.97" fill="#7780c1"/>
<rect x="222.03" y="109.23" width="6.18" height="12.97" fill="#7780c1"/>
<rect x="229.46" y="109.23" width="6.18" height="12.97" fill="#7c86c4"/>
<rect x="236.89" y="109.23" width="6.18" height="12.97" fill="#949bce"/>
<rect x="244.32" y="109.23" width="6.18" height="12.97" fill="#8890c9"/>
<rect x="251.75" y="109.23" width="6.18" height="12.97" fill="#7c86c4"/>
<rect x="259.19" y="109.23" width="6.18" height="12.97" fill="#7c86c4"/>
<rect x="266.62" y="109.23" width="6.18" height="12.97" fill="#7c86c4"/>
<rect x="274.05" y="109.23" width="6.18" height="12.97" fill="#828bc6"/>
<rect x="281.48" y="109.23" width="6.18" height="12.97" fill="#8890c9"/>
<rect x="288.91" y="109.23" width="6.18" height="12.97" fill="#828bc6"/>
<rect x="296.35" y="109.23" width="6.18" height="12.97" fill="#7c86c4"/>
<rect x="303.78" y="109.23" width="6.18" height="12.97" fill="#7780c1"/>
<rect x="311.21" y="109.23" width="6.18" height="12.97" fill="#7c86c4"/>
<rect x="318.64" y="109.23" width="6.18" height="12.97" fill="#7780c1"/>
<rect x="326.07" y="109.23" width="6.18" height="12.97" fill="#7780c1"/>
<rect x="333.51" y="109.23" width="6.18" height="12.97" fill="#7c86c4"/>
<rect x="340.94" y="109.23" width="6.18" height="12.97" fill="#7c86c4"/>
<rect x="348.37" y="109.23" width="6.18" height="12.97" fill="#7c86c4"/>
<rect x="355.80" y="109.23" width="6.18" height="12.97" fill="#7c86c4"/>
<rect x="363.23" y="109.23" width="6.18" height="12.97" fill="#7780c1"/>
<rect x="370.67" y="109.23" width="6.18" height="12.97" fill="#7780c1"/>
<rect x="378.10" y="109.23" width="6.18" height="12.97" fill="#8e96cb"/>
<rect x="385.53" y="109.23" width="6.18" height="12.97" fill="#7780c1"/>
<rect x="392.96" y="109.23" width="6.18" height="12.97" fill="#7c86c4"/>
<rect x="400.39" y="109.23" width="6.18" height="12.97" fill="#8890c9"/>
<rect x="407.83" y="109.23" width="6.18" height="12.97" fill="#7c86c4"/>
<rect x="415.26" y="109.23" width="6.18" height="12.97" fill="#7c86c4"/>
<rect x="422.69" y="109.23" width="6.18" height="12.97" fill="#e5484b"/>
<rect x="430.12" y="109.23" width="6.18" height="12.97" fill="#828bc6"/>
<rect x="437.55" y="109.23" width="6.18" height="12.97" fill="#8890c9"/>
<rect x="444.99" y="109.23" width="6.18" height="12.97" fill="#828bc6"/>
<rect x="452.42" y="109.23" width="6.18" height="12.97" fill="#7c86c4"/>
<rect x="459.85" y="109.23" width="6.18" height="12.97" fill="#7780c1"/>
<rect x="467.28" y="109.23" width="6.18" height="12.97" fill="#7780c1"/>
<rect x="474.71" y="109.23" width="6.18" height="12.97" fill="#7780c1"/>
<rect x="482.15" y="109.23" width="6.18" height="12.97" fill="#8890c9"/>
<rect x="489.58" y="109.23" width="6.18" height="12.97" fill="#ee9598"/>
<rect x="497.01" y="109.23" width="6.18" height="12.97" fill="#f1b1b4"/>
<rect x="504.44" y="109.23" width="6.18" height="12.97" fill="#e96a6d"/>
<rect x="511.87" y="109.23" width="6.18" height="12.97" fill="#ea6f73"/>
<rect x="519.31" y="109.23" width="6.18" height="12.97" fill="#ec888b"/>
<rect x="526.74" y="109.23" width="6.18" height="12.97" fill="#ec8285"/>
<rect x="534.17" y="109.23" width="6.18" height="12.97" fill="#e54246"/>
<rect x="541.60" y="109.23" width="6.18" height="12.97" fill="#eb7c7f"/>
<rect x="549.03" y="109.23" width="6.18" height="12.97" fill="#e7585c"/>
<rect x="556.47" y="109.23" width="6.18" height="12.97" fill="#e75356"/>
<rect x="563.90" y="109.23" width="6.18" height="12.97" fill="#f5dbdd"/>
<rect x="571.33" y="109.23" width="6.18" height="12.97" fill="#ea6f73"/>
<rect x="578.76" y="109.23" width="6.18" height="12.97" fill="#e54246"/>
<rect x="586.19" y="109.23" width="6.18" height="12.97" fill="#eb7c7f"/>
<rect x="593.62" y="109.23" width="6.18" height="12.97" fill="#ed8e91"/>
<rect x="601.06" y="109.23" width="6.18" height="12.97" fill="#ea7579"/>
<rect x="608.49" y="109.23" width="6.18" height="12.97" fill="#ea7579"/>
<rect x="615.92" y="109.23" width="6.18" height="12.97" fill="#ec8285"/>
<rect x="623.35" y="109.23" width="6.18" height="12.97" fill="#ea6f73"/>
<rect x="630.79" y="109.23" width="6.18" height="12.97" fill="#e64d51"/>
<rect x="638.22" y="109.23" width="6.18" height="12.97" fill="#e86467"/>
<rect x="645.65" y="109.23" width="6.18" height="12.97" fill="#e54246"/>
<rect x="653.08" y="109.23" width="6.18" height="12.97" fill="#ed8e91"/>
<rect x="660.51" y="109.23" width="6.18" height="12.97" fill="#e7585c"/>
<rect x="667.95" y="109.23" width="6.18" height="12.97" fill="#e5484b"/>
<g font-size="6.3" font-weight="bold" font-style="italic" fill="#000">
<text transform="translate(682.3,58.3) rotate(-90)" text-anchor="middle">Chm<tspan font-size="4" dy="-2.2">fl/y</tspan></text>
<text transform="translate(682.3,101.2) rotate(-90)" text-anchor="middle" font-size="5.7">Chm<tspan font-size="3.8" dy="-2">fl/y</tspan><tspan dy="2">, Six3-Cre</tspan></text>
</g>
<defs><linearGradient id="cb" x1="0" x2="1" y1="0" y2="0"><stop offset="0.000" stop-color="#e2282c"/><stop offset="0.050" stop-color="#e4383b"/><stop offset="0.100" stop-color="#e5484b"/><stop offset="0.150" stop-color="#e7585c"/><stop offset="0.200" stop-color="#e96a6d"/><stop offset="0.250" stop-color="#eb7c7f"/><stop offset="0.300" stop-color="#ed8e91"/><stop offset="0.350" stop-color="#efa2a5"/><stop offset="0.400" stop-color="#f1b8bb"/><stop offset="0.450" stop-color="#f4d1d4"/><stop offset="0.500" stop-color="#f8f6f8"/><stop offset="0.550" stop-color="#d5d6e9"/><stop offset="0.600" stop-color="#bdc0df"/><stop offset="0.650" stop-color="#a8add6"/><stop offset="0.700" stop-color="#949bce"/><stop offset="0.750" stop-color="#828bc6"/><stop offset="0.800" stop-color="#717bbf"/><stop offset="0.850" stop-color="#606cb8"/><stop offset="0.900" stop-color="#515eb1"/><stop offset="0.950" stop-color="#4150aa"/><stop offset="1.000" stop-color="#3242a4"/></linearGradient></defs>
<rect x="92.4" y="144.7" width="114.9" height="8.1" fill="url(#cb)"/>
<g font-size="7" fill="#111" stroke="#111" stroke-width="0.18">
<text transform="translate(97.80,142.2) rotate(-90)">1.5</text>
<text transform="translate(116.00,142.2) rotate(-90)">1</text>
<text transform="translate(134.20,142.2) rotate(-90)">0.5</text>
<text transform="translate(152.40,142.2) rotate(-90)">0</text>
<text transform="translate(170.60,142.2) rotate(-90)">-0.5</text>
<text transform="translate(188.80,142.2) rotate(-90)">-1</text>
<text transform="translate(207.00,142.2) rotate(-90)">-1.5</text>
</g>
<g stroke="#1a1a1a" stroke-width="1.35" fill="none">
<path d="M92.6 192.20H104.9V380.30H660.8"/>
<path d="M92.6 254.90H104.9"/>
<path d="M92.6 317.60H104.9"/>
<path d="M92.6 380.30H104.9"/>
</g>
<g font-size="13.8" font-weight="bold" fill="#111" text-anchor="end">
<text x="90.4" y="196.50">1.5</text>
<text x="90.4" y="259.20">1.0</text>
<text x="90.4" y="321.90">0.5</text>
<text x="90.4" y="384.60">0.0</text>
</g>
<g font-size="13.3" font-weight="bold" fill="#111" text-anchor="middle">
<text transform="translate(48,290.6) rotate(-90)">Relative mRNA level</text>
<text transform="translate(63.7,290.4) rotate(-90)" textLength="65.5" lengthAdjust="spacingAndGlyphs">to Control</text>
</g>
<rect x="114.20" y="254.90" width="17.6" height="125.40" fill="#acacac" stroke="#2a2a2a" stroke-width="1"/>
<rect x="140.30" y="336.28" width="17.6" height="44.02" fill="#e35353" stroke="#2a2a2a" stroke-width="1"/>
<path d="M123.00 247.90V261.40M118.70 247.90h8.6M118.70 261.40h8.6" stroke="#111" stroke-width="1.0" fill="none"/>
<path d="M149.10 330.30V342.27M144.80 330.30h8.6M144.80 342.27h8.6" stroke="#111" stroke-width="1.0" fill="none"/>
<circle cx="122.6" cy="235" r="1.6" fill="none" stroke="#222" stroke-width="0.75"/>
<circle cx="122.3" cy="246.1" r="1.6" fill="none" stroke="#222" stroke-width="0.75"/>
<circle cx="121.6" cy="252.5" r="1.6" fill="none" stroke="#222" stroke-width="0.75"/>
<circle cx="118.9" cy="270.4" r="1.6" fill="none" stroke="#222" stroke-width="0.75"/>
<circle cx="125.7" cy="268.9" r="1.6" fill="none" stroke="#222" stroke-width="0.75"/>
<path d="M148.70 313.40L150.31 316.46H147.08Z" fill="none" stroke="#222" stroke-width="0.8"/>
<path d="M149.10 335.30L150.72 338.36H147.48Z" fill="none" stroke="#222" stroke-width="0.8"/>
<path d="M145.50 338.30L147.12 341.36H143.88Z" fill="none" stroke="#222" stroke-width="0.8"/>
<path d="M151.70 340.50L153.31 343.56H150.08Z" fill="none" stroke="#222" stroke-width="0.8"/>
<path d="M149.10 345.20L150.72 348.26H147.48Z" fill="none" stroke="#222" stroke-width="0.8"/>
<path d="M135.30 380.30V392.6" stroke="#1a1a1a" stroke-width="1.35"/>
<text x="137.80" y="407" font-size="13.4" font-weight="bold" font-style="italic" text-anchor="middle" fill="#111">Rcvrn</text>
<path d="M121.75 225.1H147.35" stroke="#555" stroke-width="1.1"/>
<path d="M131.62 211.60L131.62 216.20M129.63 212.75L133.62 215.05M133.62 212.75L129.63 215.05" stroke="#444" stroke-width="1.15" fill="none"/>
<path d="M137.48 211.60L137.48 216.20M135.48 212.75L139.47 215.05M139.47 212.75L135.48 215.05" stroke="#444" stroke-width="1.15" fill="none"/>
<rect x="184.78" y="254.90" width="17.6" height="125.40" fill="#acacac" stroke="#2a2a2a" stroke-width="1"/>
<rect x="210.96" y="300.17" width="17.6" height="80.13" fill="#e35353" stroke="#2a2a2a" stroke-width="1"/>
<path d="M193.58 249.10V259.50M189.28 249.10h8.6M189.28 259.50h8.6" stroke="#111" stroke-width="1.0" fill="none"/>
<path d="M219.76 295.30V305.04M215.46 295.30h8.6M215.46 305.04h8.6" stroke="#111" stroke-width="1.0" fill="none"/>
<circle cx="190.2" cy="244" r="1.6" fill="none" stroke="#222" stroke-width="0.75"/>
<circle cx="196" cy="244.2" r="1.6" fill="none" stroke="#222" stroke-width="0.75"/>
<circle cx="190.2" cy="253.5" r="1.6" fill="none" stroke="#222" stroke-width="0.75"/>
<circle cx="196" cy="256.9" r="1.6" fill="none" stroke="#222" stroke-width="0.75"/>
<circle cx="193.1" cy="275.6" r="1.6" fill="none" stroke="#222" stroke-width="0.75"/>
<path d="M219.40 281.10L221.02 284.16H217.78Z" fill="none" stroke="#222" stroke-width="0.8"/>
<path d="M219.40 293.80L221.02 296.86H217.78Z" fill="none" stroke="#222" stroke-width="0.8"/>
<path d="M216.30 303.50L217.92 306.56H214.69Z" fill="none" stroke="#222" stroke-width="0.8"/>
<path d="M222.40 304.10L224.02 307.16H220.78Z" fill="none" stroke="#222" stroke-width="0.8"/>
<path d="M219.40 310.20L221.02 313.26H217.78Z" fill="none" stroke="#222" stroke-width="0.8"/>
<path d="M206.00 380.30V392.6" stroke="#1a1a1a" stroke-width="1.35"/>
<text x="208.84" y="407" font-size="13.4" font-weight="bold" font-style="italic" text-anchor="middle" fill="#111">Opn1sw</text>
<path d="M192.81 225.1H218.41" stroke="#555" stroke-width="1.1"/>
<path d="M202.69 211.60L202.69 216.20M200.69 212.75L204.68 215.05M204.68 212.75L200.69 215.05" stroke="#444" stroke-width="1.15" fill="none"/>
<path d="M208.54 211.60L208.54 216.20M206.54 212.75L210.53 215.05M210.53 212.75L206.54 215.05" stroke="#444" stroke-width="1.15" fill="none"/>
<rect x="255.36" y="254.90" width="17.6" height="125.40" fill="#acacac" stroke="#2a2a2a" stroke-width="1"/>
<rect x="281.62" y="287.13" width="17.6" height="93.17" fill="#e35353" stroke="#2a2a2a" stroke-width="1"/>
<path d="M264.16 246.70V262.70M259.86 246.70h8.6M259.86 262.70h8.6" stroke="#111" stroke-width="1.0" fill="none"/>
<path d="M290.42 281.30V292.96M286.12 281.30h8.6M286.12 292.96h8.6" stroke="#111" stroke-width="1.0" fill="none"/>
<circle cx="263.9" cy="231.8" r="1.6" fill="none" stroke="#222" stroke-width="0.75"/>
<circle cx="263.9" cy="240.3" r="1.6" fill="none" stroke="#222" stroke-width="0.75"/>
<circle cx="263.9" cy="260.8" r="1.6" fill="none" stroke="#222" stroke-width="0.75"/>
<circle cx="263.9" cy="266.8" r="1.6" fill="none" stroke="#222" stroke-width="0.75"/>
<circle cx="263.9" cy="272.4" r="1.6" fill="none" stroke="#222" stroke-width="0.75"/>
<path d="M283.00 277.40L284.62 280.46H281.38Z" fill="none" stroke="#222" stroke-width="0.8"/>
<path d="M290.30 275.00L291.92 278.06H288.69Z" fill="none" stroke="#222" stroke-width="0.8"/>
<path d="M297.60 278.30L299.22 281.36H295.99Z" fill="none" stroke="#222" stroke-width="0.8"/>
<path d="M290.30 296.30L291.92 299.36H288.69Z" fill="none" stroke="#222" stroke-width="0.8"/>
<path d="M290.30 300.90L291.92 303.96H288.69Z" fill="none" stroke="#222" stroke-width="0.8"/>
<path d="M276.70 380.30V392.6" stroke="#1a1a1a" stroke-width="1.35"/>
<text x="279.88" y="407" font-size="13.4" font-weight="bold" font-style="italic" text-anchor="middle" fill="#111">Rho</text>
<path d="M263.87 225.1H289.47" stroke="#555" stroke-width="1.1"/>
<path d="M276.67 211.60L276.67 216.20M274.68 212.75L278.66 215.05M278.66 212.75L274.68 215.05" stroke="#444" stroke-width="1.15" fill="none"/>
<rect x="325.94" y="254.90" width="17.6" height="125.40" fill="#acacac" stroke="#2a2a2a" stroke-width="1"/>
<rect x="352.28" y="283.99" width="17.6" height="96.31" fill="#e35353" stroke="#2a2a2a" stroke-width="1"/>
<path d="M334.74 245.20V264.20M330.44 245.20h8.6M330.44 264.20h8.6" stroke="#111" stroke-width="1.0" fill="none"/>
<path d="M361.08 278.20V289.79M356.78 278.20h8.6M356.78 289.79h8.6" stroke="#111" stroke-width="1.0" fill="none"/>
<circle cx="334.1" cy="230.9" r="1.6" fill="none" stroke="#222" stroke-width="0.75"/>
<circle cx="334.1" cy="236.9" r="1.6" fill="none" stroke="#222" stroke-width="0.75"/>
<circle cx="334.1" cy="254" r="1.6" fill="none" stroke="#222" stroke-width="0.75"/>
<circle cx="330.9" cy="278" r="1.6" fill="none" stroke="#222" stroke-width="0.75"/>
<circle cx="337.5" cy="274.8" r="1.6" fill="none" stroke="#222" stroke-width="0.75"/>
<path d="M360.60 266.60L362.22 269.66H358.99Z" fill="none" stroke="#222" stroke-width="0.8"/>
<path d="M360.60 274.10L362.22 277.16H358.99Z" fill="none" stroke="#222" stroke-width="0.8"/>
<path d="M360.60 286.80L362.22 289.86H358.99Z" fill="none" stroke="#222" stroke-width="0.8"/>
<path d="M357.70 291.10L359.31 294.16H356.08Z" fill="none" stroke="#222" stroke-width="0.8"/>
<path d="M364.00 291.10L365.62 294.16H362.38Z" fill="none" stroke="#222" stroke-width="0.8"/>
<path d="M347.40 380.30V392.6" stroke="#1a1a1a" stroke-width="1.35"/>
<text x="350.92" y="407" font-size="13.4" font-weight="bold" font-style="italic" text-anchor="middle" fill="#111">Prkca</text>
<path d="M334.93 225.1H360.53" stroke="#555" stroke-width="1.1"/>
<path d="M347.73 211.60L347.73 216.20M345.74 212.75L349.72 215.05M349.72 212.75L345.74 215.05" stroke="#444" stroke-width="1.15" fill="none"/>
<rect x="396.52" y="254.90" width="17.6" height="125.40" fill="#acacac" stroke="#2a2a2a" stroke-width="1"/>
<rect x="422.94" y="267.57" width="17.6" height="112.73" fill="#e35353" stroke="#2a2a2a" stroke-width="1"/>
<path d="M405.32 247.00V262.50M401.02 247.00h8.6M401.02 262.50h8.6" stroke="#111" stroke-width="1.0" fill="none"/>
<path d="M431.74 264.40V270.73M427.44 264.40h8.6M427.44 270.73h8.6" stroke="#111" stroke-width="1.0" fill="none"/>
<circle cx="401.7" cy="238.2" r="1.6" fill="none" stroke="#222" stroke-width="0.75"/>
<circle cx="408.3" cy="238.9" r="1.6" fill="none" stroke="#222" stroke-width="0.75"/>
<circle cx="404.6" cy="250.6" r="1.6" fill="none" stroke="#222" stroke-width="0.75"/>
<circle cx="404.6" cy="269" r="1.6" fill="none" stroke="#222" stroke-width="0.75"/>
<circle cx="404.6" cy="277.1" r="1.6" fill="none" stroke="#222" stroke-width="0.75"/>
<path d="M431.40 255.30L433.01 258.36H429.78Z" fill="none" stroke="#222" stroke-width="0.8"/>
<path d="M424.30 266.30L425.92 269.36H422.69Z" fill="none" stroke="#222" stroke-width="0.8"/>
<path d="M438.40 266.80L440.01 269.86H436.78Z" fill="none" stroke="#222" stroke-width="0.8"/>
<path d="M431.40 268.30L433.01 271.36H429.78Z" fill="none" stroke="#222" stroke-width="0.8"/>
<path d="M431.40 272.20L433.01 275.26H429.78Z" fill="none" stroke="#222" stroke-width="0.8"/>
<path d="M418.10 380.30V392.6" stroke="#1a1a1a" stroke-width="1.35"/>
<text x="421.96" y="407" font-size="13.4" font-weight="bold" font-style="italic" text-anchor="middle" fill="#111">Gnb5</text>
<path d="M405.99 225.1H431.59" stroke="#555" stroke-width="1.1"/>
<text x="419.59" y="218.6" font-size="17" text-anchor="middle" fill="#222">ns</text>
<rect x="467.10" y="254.90" width="17.6" height="125.40" fill="#acacac" stroke="#2a2a2a" stroke-width="1"/>
<rect x="493.60" y="324.50" width="17.6" height="55.80" fill="#e35353" stroke="#2a2a2a" stroke-width="1"/>
<path d="M475.90 247.40V262.60M471.60 247.40h8.6M471.60 262.60h8.6" stroke="#111" stroke-width="1.0" fill="none"/>
<path d="M502.40 321.50V327.49M498.10 321.50h8.6M498.10 327.49h8.6" stroke="#111" stroke-width="1.0" fill="none"/>
<circle cx="475.4" cy="233.5" r="1.6" fill="none" stroke="#222" stroke-width="0.75"/>
<circle cx="475.4" cy="241.3" r="1.6" fill="none" stroke="#222" stroke-width="0.75"/>
<circle cx="472.4" cy="260.8" r="1.6" fill="none" stroke="#222" stroke-width="0.75"/>
<circle cx="478.5" cy="262.8" r="1.6" fill="none" stroke="#222" stroke-width="0.75"/>
<circle cx="475.4" cy="274.9" r="1.6" fill="none" stroke="#222" stroke-width="0.75"/>
<path d="M501.60 314.60L503.22 317.66H499.99Z" fill="none" stroke="#222" stroke-width="0.8"/>
<path d="M501.60 318.80L503.22 321.86H499.99Z" fill="none" stroke="#222" stroke-width="0.8"/>
<path d="M498.70 324.90L500.31 327.96H497.08Z" fill="none" stroke="#222" stroke-width="0.8"/>
<path d="M505.00 325.80L506.62 328.86H503.38Z" fill="none" stroke="#222" stroke-width="0.8"/>
<path d="M498.70 328.70L500.31 331.76H497.08Z" fill="none" stroke="#222" stroke-width="0.8"/>
<path d="M488.80 380.30V392.6" stroke="#1a1a1a" stroke-width="1.35"/>
<text x="493.00" y="407" font-size="13.4" font-weight="bold" font-style="italic" text-anchor="middle" fill="#111">Grm6</text>
<path d="M477.05 225.1H502.65" stroke="#555" stroke-width="1.1"/>
<path d="M484.00 211.60L484.00 216.20M482.01 212.75L485.99 215.05M485.99 212.75L482.01 215.05" stroke="#444" stroke-width="1.15" fill="none"/>
<path d="M489.85 211.60L489.85 216.20M487.86 212.75L491.84 215.05M491.84 212.75L487.86 215.05" stroke="#444" stroke-width="1.15" fill="none"/>
<path d="M495.70 211.60L495.70 216.20M493.71 212.75L497.69 215.05M497.69 212.75L493.71 215.05" stroke="#444" stroke-width="1.15" fill="none"/>
<rect x="537.68" y="254.90" width="17.6" height="125.40" fill="#acacac" stroke="#2a2a2a" stroke-width="1"/>
<rect x="564.26" y="334.53" width="17.6" height="45.77" fill="#e35353" stroke="#2a2a2a" stroke-width="1"/>
<path d="M546.48 251.00V259.00M542.18 251.00h8.6M542.18 259.00h8.6" stroke="#111" stroke-width="1.0" fill="none"/>
<path d="M573.06 329.70V339.36M568.76 329.70h8.6M568.76 339.36h8.6" stroke="#111" stroke-width="1.0" fill="none"/>
<circle cx="545.9" cy="240.1" r="1.6" fill="none" stroke="#222" stroke-width="0.75"/>
<circle cx="542.9" cy="254.7" r="1.6" fill="none" stroke="#222" stroke-width="0.75"/>
<circle cx="549" cy="252.2" r="1.6" fill="none" stroke="#222" stroke-width="0.75"/>
<circle cx="542.9" cy="263.7" r="1.6" fill="none" stroke="#222" stroke-width="0.75"/>
<circle cx="549" cy="261.2" r="1.6" fill="none" stroke="#222" stroke-width="0.75"/>
<path d="M572.40 321.00L574.01 324.06H570.78Z" fill="none" stroke="#222" stroke-width="0.8"/>
<path d="M572.40 327.60L574.01 330.66H570.78Z" fill="none" stroke="#222" stroke-width="0.8"/>
<path d="M572.40 333.90L574.01 336.96H570.78Z" fill="none" stroke="#222" stroke-width="0.8"/>
<path d="M575.50 338.50L577.12 341.56H573.88Z" fill="none" stroke="#222" stroke-width="0.8"/>
<path d="M569.50 341.20L571.12 344.26H567.88Z" fill="none" stroke="#222" stroke-width="0.8"/>
<path d="M559.50 380.30V392.6" stroke="#1a1a1a" stroke-width="1.35"/>
<text x="564.04" y="407" font-size="13.4" font-weight="bold" font-style="italic" text-anchor="middle" fill="#111">Cabp4</text>
<path d="M548.11 225.1H573.71" stroke="#555" stroke-width="1.1"/>
<path d="M555.06 211.60L555.06 216.20M553.07 212.75L557.05 215.05M557.05 212.75L553.07 215.05" stroke="#444" stroke-width="1.15" fill="none"/>
<path d="M560.91 211.60L560.91 216.20M558.92 212.75L562.90 215.05M562.90 212.75L558.92 215.05" stroke="#444" stroke-width="1.15" fill="none"/>
<path d="M566.76 211.60L566.76 216.20M564.77 212.75L568.75 215.05M568.75 212.75L564.77 215.05" stroke="#444" stroke-width="1.15" fill="none"/>
<rect x="608.26" y="254.90" width="17.6" height="125.40" fill="#acacac" stroke="#2a2a2a" stroke-width="1"/>
<rect x="634.92" y="316.85" width="17.6" height="63.45" fill="#e35353" stroke="#2a2a2a" stroke-width="1"/>
<path d="M617.06 250.30V260.80M612.76 250.30h8.6M612.76 260.80h8.6" stroke="#111" stroke-width="1.0" fill="none"/>
<path d="M643.72 311.20V322.50M639.42 311.20h8.6M639.42 322.50h8.6" stroke="#111" stroke-width="1.0" fill="none"/>
<circle cx="616.6" cy="241.3" r="1.6" fill="none" stroke="#222" stroke-width="0.75"/>
<circle cx="613.7" cy="250.3" r="1.6" fill="none" stroke="#222" stroke-width="0.75"/>
<circle cx="620" cy="249.1" r="1.6" fill="none" stroke="#222" stroke-width="0.75"/>
<circle cx="617.1" cy="256.4" r="1.6" fill="none" stroke="#222" stroke-width="0.75"/>
<circle cx="617.1" cy="277.8" r="1.6" fill="none" stroke="#222" stroke-width="0.75"/>
<path d="M643.10 301.70L644.72 304.76H641.49Z" fill="none" stroke="#222" stroke-width="0.8"/>
<path d="M643.10 308.30L644.72 311.36H641.49Z" fill="none" stroke="#222" stroke-width="0.8"/>
<path d="M643.10 313.10L644.72 316.16H641.49Z" fill="none" stroke="#222" stroke-width="0.8"/>
<path d="M646.50 325.10L648.12 328.16H644.88Z" fill="none" stroke="#222" stroke-width="0.8"/>
<path d="M640.20 327.30L641.82 330.36H638.59Z" fill="none" stroke="#222" stroke-width="0.8"/>
<path d="M630.20 380.30V392.6" stroke="#1a1a1a" stroke-width="1.35"/>
<text x="635.08" y="407" font-size="13.4" font-weight="bold" font-style="italic" text-anchor="middle" fill="#111">Ctbp2</text>
<path d="M619.17 225.1H644.77" stroke="#555" stroke-width="1.1"/>
<path d="M629.05 211.60L629.05 216.20M627.05 212.75L631.04 215.05M631.04 212.75L627.05 215.05" stroke="#444" stroke-width="1.15" fill="none"/>
<path d="M634.89 211.60L634.89 216.20M632.90 212.75L636.89 215.05M636.89 212.75L632.90 215.05" stroke="#444" stroke-width="1.15" fill="none"/>
<rect x="576.6" y="171.5" width="13" height="7" rx="1" fill="#acacac" stroke="#2a2a2a" stroke-width="0.8"/>
<rect x="576.6" y="187.2" width="13" height="7" rx="1" fill="#e35353" stroke="#2a2a2a" stroke-width="0.8"/>
<g font-size="8.6" font-weight="bold" font-style="italic" fill="#111">
<text x="594.6" y="178">Chm</text>
<text x="615.2" y="174.6" font-size="4.3">fl/y</text>
<text x="594.6" y="193.6">Chm</text>
<text x="615.2" y="190.2" font-size="4.3">fl/y</text>
<text x="620.3" y="193.6" font-size="8.4">, Six3-Cre</text>
</g>
</svg></body></html>
